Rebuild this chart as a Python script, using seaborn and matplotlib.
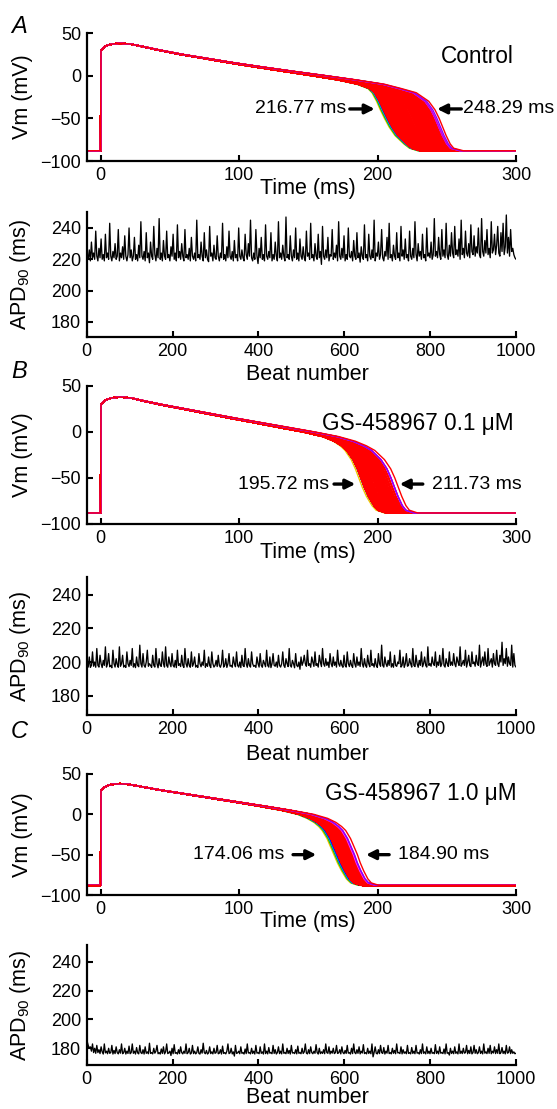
import numpy as np
import pandas as pd
import matplotlib
matplotlib.use("Agg")
import matplotlib.pyplot as plt
import seaborn as sns

# ---------------- data ----------------
# APD90 (ms) per beat (every 2.5th beat of the 1000-beat run)
APD_CONTROL = [
    222, 220, 226, 219, 231, 221, 224, 220, 238, 222, 219, 227, 221, 233, 220, 223, 219, 236, 221, 224,
    220, 243, 222, 219, 225, 221, 230, 220, 222, 239, 219, 224, 221, 228, 220, 235, 222, 219, 223, 240,
    221, 226, 219, 222, 234, 220, 223, 219, 229, 221, 244, 222, 220, 225, 219, 237, 221, 224, 217.8, 231,
    222, 220, 241, 223, 219, 227, 221, 246, 220, 224, 219, 232, 222, 220, 238, 221, 223, 219, 228, 222,
    236, 220, 224, 219, 242, 221, 225, 220, 230, 222, 219, 239, 221, 223, 220, 227, 219, 234, 222, 220,
    224, 219, 245, 221, 223, 220, 231, 222, 219, 237, 221, 226, 220, 218.5, 241, 222, 224, 219, 229, 221,
    220, 235, 222, 219, 224, 221, 243, 220, 223, 219, 228, 221, 238, 222, 220, 225, 219, 232, 221, 223,
    219, 240, 222, 220, 226, 221, 219, 236, 223, 220, 230, 222, 245, 221, 219, 224, 220, 239, 222, 217.3,
    227, 221, 234, 220, 223, 219, 242, 222, 220, 225, 221, 237, 219, 223, 220, 231, 222, 219, 244, 221,
    224, 220, 229, 222, 219, 247, 221, 223, 220, 235, 222, 219, 226, 221, 240, 220, 224, 219, 233, 222,
    220, 228, 221, 219, 238, 222, 224, 220, 243, 221, 223, 219, 230, 222, 220, 236, 221, 225, 216.77, 241,
    222, 220, 226, 221, 234, 219, 223, 222, 239, 220, 224, 221, 229, 219, 244, 222, 220, 227, 221, 235,
    219, 223, 220, 240, 222, 221, 225, 219, 232, 222, 220, 237, 221, 224, 218.2, 228, 222, 220, 242, 221,
    223, 219, 236, 222, 220, 226, 221, 245, 219, 224, 222, 231, 220, 223, 239, 221, 219, 225, 222, 234,
    220, 243, 221, 223, 219, 229, 222, 220, 237, 221, 224, 219, 241, 222, 226, 220, 233, 221, 223, 219,
    238, 222, 220, 227, 221, 244, 223, 219, 230, 222, 225, 220, 236, 221, 223, 219, 240, 222, 224, 221,
    231, 220, 223, 246, 222, 225, 221, 234, 223, 220, 239, 222, 226, 221, 243, 223, 220, 229, 222, 237,
    224, 221, 241, 223, 226, 222, 233, 220, 245, 223, 227, 221, 238, 224, 222, 230, 221, 242, 225, 223,
    235, 222, 228, 224, 240, 223, 221, 246, 225, 222, 232, 224, 239, 223, 227, 221, 244, 224, 226, 236,
    223, 229, 241, 224, 222, 237, 225, 243, 223, 228, 248.29, 224, 234, 222, 239, 225, 227, 223, 221, 220,
]
APD_GS01 = [
    199, 197, 203, 196.8, 198, 206, 197.5, 200, 196.9, 208, 198, 197, 204, 199, 196.7, 201, 198, 209, 197, 199,
    205, 197.2, 198, 196.6, 207, 199, 197, 202, 198.5, 196.9, 209, 197.5, 199, 204, 197, 198, 196.8, 206, 199, 197.3,
    201, 198, 208, 197, 199, 196.7, 203, 198, 197.2, 210, 199, 197, 205, 198, 196.9, 200, 207, 197.5, 199, 198,
    196.8, 204, 198, 197, 208, 199, 196.6, 202, 198, 197.4, 206, 199, 197, 209, 198, 196.9, 203, 199, 197.2, 205,
    198, 197, 201, 196.7, 207, 198, 199, 197.3, 204, 198, 196.8, 208, 199, 197, 202, 198, 196.9, 206, 197.5, 199,
    203, 197, 198, 196.8, 205, 199, 197.2, 200, 198, 207, 196.9, 199, 197.4, 203, 198, 196.7, 206, 199, 197, 198,
    201, 197.3, 204, 198, 196.9, 199, 207, 197, 198, 202, 196.8, 199, 205, 197.5, 198, 196.9, 203, 199, 197.2, 206,
    198, 197, 200, 196.7, 204, 198, 197.3, 208, 199, 196.9, 202, 198, 197, 206, 199, 197.4, 198, 196.8, 203, 199,
    197, 205, 198, 196.9, 201, 199, 197.2, 207, 198, 197, 203, 196.7, 199, 205, 198, 197.5, 200, 196.9, 204, 198,
    197, 199, 206, 198, 196.8, 202, 199, 197.3, 208, 198, 197, 201, 199, 196.6, 205, 198, 197.2, 200, 195.72, 203,
    198, 200, 204, 199, 197.5, 207, 198, 199, 196.9, 203, 200, 197.4, 206, 198, 199, 197, 204, 200, 197.3, 208,
    199, 197.5, 202, 198, 200, 196.8, 205, 199, 197.2, 203, 198, 200, 197, 207, 199, 197.5, 201, 198, 196.9, 204,
    198, 197, 206, 199, 197.3, 201, 198, 196.8, 205, 199, 197, 203, 198, 200, 197.4, 208, 199, 197, 202, 198,
    196.9, 204, 199, 197.2, 207, 198, 199, 197, 202, 198, 196.8, 205, 199, 197.5, 210, 198, 197, 203, 199, 197.3,
    201, 198, 206, 197, 199, 196.9, 204, 198, 197.4, 200, 199, 207, 197, 198, 203, 196.8, 199, 205, 197.5, 198,
    202, 199, 197, 208, 198, 197.3, 204, 199, 196.9, 201, 198, 206, 197.2, 199, 203, 198, 197, 209, 198, 199,
    197.5, 203, 199, 198, 206, 197, 200, 198, 204, 197.3, 199, 208, 198, 197, 202, 199, 197.4, 206, 198, 200,
    198, 205, 199, 197.2, 203, 200, 198, 209, 197.5, 199, 201, 198, 207, 197, 200, 204, 198, 197.3, 206, 199,
    200, 197.5, 204, 199, 198, 210, 197, 200, 203, 198, 206, 199, 197.4, 208, 198, 200, 202, 197, 205, 199,
    198, 207, 199, 197.3, 204, 200, 211.73, 198, 202, 199, 208, 197.5, 203, 199, 198, 210, 197, 205, 198, 197,
]
APD_GS10 = [
    184.9, 182, 180, 181, 178, 183, 177, 180, 176.5, 182, 177, 179, 176.3, 181, 177.5, 176, 183, 176.8, 178, 176.2,
    180, 176.5, 177, 182, 176, 178.5, 176.3, 181, 177, 176.1, 179, 176.6, 183, 176.2, 177, 180, 176, 178, 176.4, 181.5,
    176.2, 177, 183, 176.5, 178, 176, 180.5, 176.8, 176.1, 182, 177, 176.3, 179, 176, 181, 176.5, 177.5, 176.2, 183.5, 176.4,
    177, 176.1, 180, 176.6, 178, 182, 176.2, 177, 176, 179.5, 176.4, 181, 176.1, 177.5, 183, 176.3, 176.8, 178, 175.0, 180,
    176.2, 182.5, 176.5, 177, 176, 179, 176.3, 181, 177, 176.1, 178, 176.5, 183, 176.2, 177, 180, 176, 176.7, 182, 176.3,
    178, 176.1, 177, 181, 176.4, 176, 179, 176.6, 183.5, 177, 176.2, 178.5, 176, 176.8, 181, 176.3, 177.5, 176.1, 180, 176.5,
    177, 182, 176.2, 176.6, 179, 176, 181.5, 176.4, 177, 176.1, 178, 183, 176.3, 176.8, 180, 176.1, 177.5, 174.6, 182, 176.4,
    176.8, 178, 176.2, 181, 176.5, 177, 176, 179.5, 176.3, 183, 176.7, 177, 176.1, 180, 176.4, 178, 176, 182, 176.6, 177,
    176.2, 181, 176.5, 177.5, 176, 183, 176.3, 178, 176.1, 180.5, 176.6, 177, 176.2, 182, 176.4, 179, 176, 177, 181, 176.3,
    178, 176.1, 183, 176.5, 177, 176.2, 180, 176.4, 178.5, 176, 182, 176.7, 177, 176.3, 179, 176.1, 181.5, 176.5, 177, 176.2,
    180, 176.4, 177.5, 183, 176.6, 176.1, 179, 176.3, 181, 177, 176.2, 178, 176.5, 182.5, 177, 176, 180, 176.3, 177.5, 176.4,
    179, 176.2, 183, 177, 176.5, 181, 176.1, 178, 176.6, 180, 176.3, 177, 182, 176.4, 176.8, 179, 176.1, 181, 177, 176.2,
    178.5, 176.4, 182, 176.6, 177, 176, 180, 176.3, 183, 177, 176.2, 179, 176.5, 181, 176.1, 178, 176.7, 182.5, 176.3, 177,
    176.1, 180, 176.4, 178, 176.2, 183, 174.06, 177, 181, 176.5, 176.1, 179, 176.3, 182, 177, 176.4, 180.5, 176, 178, 176.6,
    182, 176.3, 177, 176.1, 180, 176.5, 178.5, 176.2, 183, 176.8, 177, 176.3, 181, 176.1, 179, 176.5, 177.5, 176.2, 182, 176.4,
    177, 176.1, 180.5, 176.4, 178, 176.2, 182, 176.6, 177, 176, 179, 176.3, 183, 176.5, 177.5, 176.1, 181, 176.4, 178, 176.2,
    180, 176.5, 177, 176.2, 182.5, 176.4, 178, 176.1, 181, 176.6, 177, 176.3, 179.5, 176.1, 183, 176.5, 177, 175.3, 180, 176.4,
    178, 176.2, 181, 176.5, 177.5, 176.1, 183, 176.4, 178, 176.3, 180, 176.6, 177, 182, 176.2, 178.5, 176.4, 181, 176.1, 177,
    182, 176.5, 179, 176.2, 177, 181, 176.4, 178, 176.1, 183, 176.6, 177.5, 176.3, 180, 176.5, 182, 176.2, 178, 176.7, 181,
    176.3, 179, 176.5, 183, 176.2, 177, 180.5, 176.4, 178, 176.1, 182, 176.6, 177, 181, 176.3, 179, 176.5, 177.5, 176.2, 176.6,
]

# Action-potential waveform: upstroke (shared) and
# the time (ms) at which each voltage level is reached by the shortest / longest beat
RISE_T = [-10, 0, 0.3, 1.5, 4, 8]
RISE_V = [-88, -88, 29, 32, 35, 37]
LEVELS = [38, 37, 35, 30, 25, 20, 15, 10, 5, 0, -5, -10, -15, -20, -30, -40, -50, -60, -70, -80, -85, -88]
T_SHORT_A = [14, 22, 27.5, 41.5, 57, 75, 92.7, 112, 132, 152, 171, 185, 193, 196, 199.3, 202, 205, 208.3, 212.5, 219, 223, 229]
T_LONG_A = [14, 22, 28, 43, 59, 78, 97, 118, 140, 163, 185, 205, 217, 228, 237, 241.5, 244.5, 247, 249.5, 252.5, 255, 262]
T_SHORT_B = [14, 22, 27, 42, 59, 76, 93, 111, 128, 146, 160, 168, 173, 176.5, 181, 184, 186.5, 189, 192, 196, 199, 205]
T_LONG_B = [14, 22, 28, 44, 62, 80, 98, 117, 136, 155, 172, 184, 192, 198, 205, 209.5, 212.5, 215, 217.5, 220.5, 223, 229]
T_SHORT_C = [14, 21, 27, 43, 61, 79, 97, 114, 130, 142, 149, 154, 157.5, 160, 163.5, 166, 168.5, 171, 174, 177.5, 180.5, 186]
T_LONG_C = [14, 21, 27.5, 44, 63, 82, 101, 120, 138, 154, 164, 170, 174, 177, 180.5, 183, 185.5, 187.5, 190, 193, 195.5, 201]
T_END = 300
V_REST = -88

CONDITIONS = ["Control", "GS-458967 0.1 μM", "GS-458967 1.0 μM"]
PANEL_LETTERS = ["A", "B", "C"]
SHORT_LABELS = ["216.77 ms", "195.72 ms", "174.06 ms"]
LONG_LABELS = ["248.29 ms", "211.73 ms", "184.90 ms"]

# ---------------- style ----------------
sns.set_theme(style="ticks")
plt.rcParams["font.family"] = ["Liberation Sans", "DejaVu Sans"]
plt.rcParams["mathtext.default"] = "regular"
plt.rcParams["axes.unicode_minus"] = True

W, H = 557, 1109
fig = plt.figure(figsize=(W / 100, H / 100), dpi=100)

LEFT, RIGHT = 86.7, 516
AP_BOXES = [(33, 161), (386, 524), (774, 895)]
APD_BOXES = [(212, 337), (577, 715), (945, 1065)]
APD_YLIMS = [(170.4, 250.2), (168.6, 250.4), (168.4, 251.6)]
BEAT_LABEL_Y = [-0.22, -0.21, -0.185]
LETTER_BASE = [33, 378, 738]
# annotation geometry (data coords)
ANN = [
    dict(vy=-39, s_txt=177.6, s_tail=180, s_head=198, l_txt=262, l_tail=260.5, l_head=243, c_x=245.6, c_y=23),
    dict(vy=-56.6, s_txt=164.7, s_tail=168.6, s_head=184, l_txt=239, l_tail=232.7, l_head=216, c_x=159.6, c_y=9.2),
    dict(vy=-50, s_txt=132.7, s_tail=139, s_head=155.8, l_txt=214.8, l_tail=208.4, l_head=191.7, c_x=162, c_y=26.4),
]

SHORT_COLORS = ["#f2c200", "#00b400", "#00c8c8", "#1010ff"]
LONG_COLORS = ["#ff30ff", "#c000e0", "#8a00ff"]
RED = "#ff0000"
TICK_FS = 13
LABEL_FS = 15.5


def rect(top, bottom):
    return [LEFT / W, 1 - bottom / H, (RIGHT - LEFT) / W, (bottom - top) / H]


def style_axes(ax):
    sns.despine(ax=ax)
    for sp in ("left", "bottom"):
        ax.spines[sp].set_linewidth(1.6)
        ax.spines[sp].set_color("black")
    ax.tick_params(direction="in", length=4, width=1.5, labelsize=TICK_FS, pad=4, colors="black")
    ax.set_facecolor("white")


def trace_frame(apds, t_short, t_long):
    a = np.asarray(apds, dtype=float)
    lo, hi = a.min(), a.max()
    ts, tl = np.asarray(t_short, float), np.asarray(t_long, float)
    frames = []
    for i, v in enumerate(a):
        w = (v - lo) / (hi - lo)
        tf = ts + w * (tl - ts)
        t = np.concatenate([RISE_T, tf, [T_END]])
        V = np.concatenate([RISE_V, LEVELS, [V_REST]])
        frames.append(pd.DataFrame({"t": t, "V": V, "beat": i}))
    return pd.concat(frames, ignore_index=True)


APDS = [APD_CONTROL, APD_GS01, APD_GS10]
TSH = [T_SHORT_A, T_SHORT_B, T_SHORT_C]
TLO = [T_LONG_A, T_LONG_B, T_LONG_C]

for k in range(3):
    apd = np.asarray(APDS[k], float)
    beats = np.linspace(1, 1000, len(apd))
    df = trace_frame(apd, TSH[k], TLO[k])
    order = np.argsort(apd, kind="stable")
    short_idx = list(order[:4])
    long_idx = list(order[-4:-1])
    max_idx = order[-1]
    special = set(short_idx) | set(long_idx) | {max_idx}

    # --- AP traces ---
    ax = fig.add_axes(rect(*AP_BOXES[k]))
    for idx, c in zip(short_idx, SHORT_COLORS):
        sns.lineplot(data=df[df.beat == idx], x="t", y="V", sort=False, estimator=None,
                     color=c, lw=1.0, ax=ax, legend=False)
    bulk = df[~df.beat.isin(special)]
    sns.lineplot(data=bulk, x="t", y="V", units="beat", sort=False, estimator=None,
                 color=RED, lw=1.0, ax=ax, legend=False)
    for idx, c in zip(long_idx, LONG_COLORS):
        sns.lineplot(data=df[df.beat == idx], x="t", y="V", sort=False, estimator=None,
                     color=c, lw=1.0, ax=ax, legend=False)
    sns.lineplot(data=df[df.beat == max_idx], x="t", y="V", sort=False, estimator=None,
                 color=RED, lw=1.0, ax=ax, legend=False)
    ax.set_xlim(-10, 300)
    ax.set_ylim(-100, 50)
    ax.set_xticks([0, 100, 200, 300])
    ax.set_yticks([-100, -50, 0, 50])
    style_axes(ax)
    ax.set_xlabel("Time (ms)", fontsize=LABEL_FS, labelpad=0, color="black")
    ax.set_ylabel("Vm (mV)", fontsize=LABEL_FS, color="black")
    ax.yaxis.set_label_coords(-0.125, 0.5)
    ax.xaxis.set_label_coords(0.515, -0.13)
    ax.xaxis.label.set_va("top")

    an = ANN[k]
    arrow = dict(arrowstyle="-|>", lw=2.4, color="black", mutation_scale=14, shrinkA=0, shrinkB=0)
    ax.annotate("", xy=(an["s_head"], an["vy"]), xytext=(an["s_tail"], an["vy"]), arrowprops=arrow)
    ax.annotate("", xy=(an["l_head"], an["vy"]), xytext=(an["l_tail"], an["vy"]), arrowprops=arrow)
    ax.text(an["s_txt"], an["vy"], SHORT_LABELS[k], ha="right", va="center", fontsize=14, color="black")
    ax.text(an["l_txt"], an["vy"], LONG_LABELS[k], ha="left", va="center", fontsize=14,
            color="black", clip_on=False)
    ax.text(an["c_x"], an["c_y"], CONDITIONS[k], ha="left", va="center", fontsize=16.3,
            color="black", clip_on=False)

    # --- APD90 vs beat ---
    ax2 = fig.add_axes(rect(*APD_BOXES[k]))
    sns.lineplot(x=beats, y=apd, color="black", lw=0.95, ax=ax2, estimator=None, sort=False)
    ax2.set_xlim(0, 1000)
    ax2.set_ylim(*APD_YLIMS[k])
    ax2.set_xticks([0, 200, 400, 600, 800, 1000])
    ax2.set_yticks([180, 200, 220, 240])
    style_axes(ax2)
    ax2.set_xlabel("Beat number", fontsize=LABEL_FS, color="black")
    ax2.set_ylabel("APD$_{90}$ (ms)", fontsize=LABEL_FS, color="black")
    ax2.yaxis.set_label_coords(-0.125, 0.5)
    ax2.xaxis.set_label_coords(0.515, BEAT_LABEL_Y[k])
    ax2.xaxis.label.set_va("top")

    fig.text(11 / W, 1 - LETTER_BASE[k] / H, PANEL_LETTERS[k], fontsize=17, style="italic",
             ha="left", va="baseline", color="black")

fig.savefig("out.png", dpi=100, facecolor="white")
